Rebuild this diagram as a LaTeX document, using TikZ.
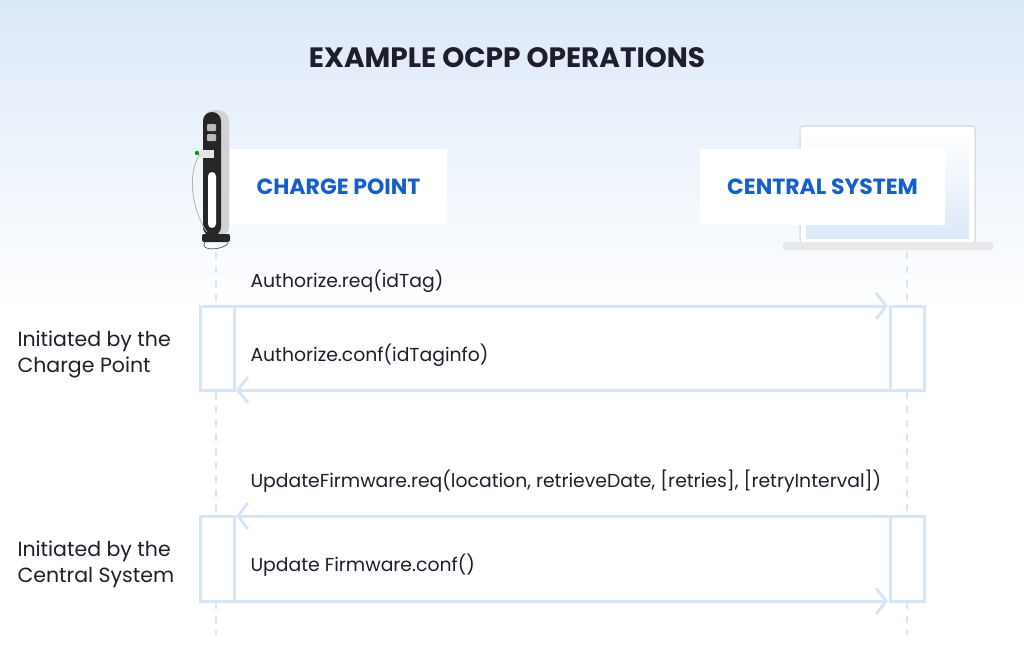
\documentclass[tikz,border=0pt]{standalone}
\usepackage{fontspec}
\setmainfont{Poppins}
\usetikzlibrary{arrows.meta}
\definecolor{bgtop}{HTML}{DCE9F8}
\definecolor{ln}{HTML}{D6E6F8}
\definecolor{hblue}{HTML}{1560C8}
\definecolor{dark}{HTML}{1E1E2C}
\begin{document}
\begin{tikzpicture}[x=1pt,y=-1pt,
  hdr/.style={fill=white,draw=none},
  hdrtext/.style={text=hblue,font=\fontsize{22}{26}\selectfont\bfseries},
  msg/.style={anchor=west,text=dark,font=\fontsize{18.8}{22}\selectfont},
  side/.style={anchor=north west,align=left,text=dark,font=\fontsize{20.5}{26}\selectfont},
  life/.style={draw=ln,line width=2.5pt,dash pattern=on 7pt off 7pt},
  act/.style={draw=ln,line width=3pt},
  arr/.style={draw=ln,line width=3pt,-{Straight Barb[length=10pt,width=26pt,line width=3pt]}}]
\useasboundingbox (0,0) rectangle (1024,657);
\shade[top color=bgtop,bottom color=white] (0,0) rectangle (1024,310);
\fill[white] (0,310) rectangle (1024,657);
\node[text=dark,font=\fontsize{28}{32}\selectfont\bfseries] (title) at (507,58) {EXAMPLE OCPP OPERATIONS};
% laptop
\draw[fill=white,draw=gray!25,line width=1.5pt,rounded corners=3pt] (800,126) rectangle (975,244);
\shade[top color=white,bottom color=bgtop] (806,133) rectangle (969,238);
\fill[gray!18,rounded corners=2pt] (783,242) rectangle (993,250);
% charger
\fill[gray!35,rounded corners=11pt] (203,110) rectangle (229,238);
\fill[black!85,rounded corners=9pt] (203,112) rectangle (221,236);
\fill[gray!55,rounded corners=1pt] (207,124) rectangle (216,131);
\fill[gray!55,rounded corners=1pt] (207,134) rectangle (216,141);
\fill[white,rounded corners=4pt] (208,172) rectangle (216,228);
\fill[black!85,rounded corners=2pt] (202,234) rectangle (230,242);
\fill[gray!20] (200,150) rectangle (214,158);
\draw[gray!60,line width=0.8pt] (200,154) .. controls (186,175) and (193,212) .. (207,232);
\draw[black!60,line width=0.8pt] (205,242) .. controls (198,252) and (225,250) .. (228,243);
\fill[green!60!black] (197,153) circle (2.2pt);
% headers
\node[hdr,minimum width=217pt,minimum height=76pt] (cp) at (338.5,187) {};
\node[hdrtext] at (cp) {CHARGE POINT};
\node[hdr,minimum width=245pt,minimum height=76pt] (cs) at (822.5,187) {};
\node[hdrtext] at (cs) {CENTRAL SYSTEM};
% lifelines
\coordinate (l1) at (216,252); \coordinate (l2) at (216,635);
\coordinate (r1) at (907,252); \coordinate (r2) at (907,635);
\draw[life] (l1) -- (l2);
\draw[life] (r1) -- (r2);
% activation boxes
\draw[act,fill=white] (200,306) rectangle (234,390);
\draw[act,fill=white] (890,306) rectangle (924,390);
\draw[act,fill=white] (200,516) rectangle (234,601);
\draw[act,fill=white] (890,516) rectangle (924,601);
\coordinate (a1) at (234,306); \coordinate (b1) at (888,306);
\coordinate (a2) at (890,390); \coordinate (b2) at (236,390);
\coordinate (a3) at (890,516); \coordinate (b3) at (236,516);
\coordinate (a4) at (234,601); \coordinate (b4) at (888,601);
\draw[arr] (a1) -- (b1);
\draw[arr] (a2) -- (b2);
\draw[arr] (a3) -- (b3);
\draw[arr] (a4) -- (b4);
% labels
\node[msg] (m1) at (247,281) {Authorize.req(idTag)};
\node[msg] (m2) at (247,355) {Authorize.conf(idTaginfo)};
\node[msg] (m3) at (247,481) {UpdateFirmware.req(location, retrieveDate, [retries], [retryInterval])};
\node[msg] (m4) at (247,565) {Update Firmware.conf()};
\node[side] (s1) at (14,327) {Initiated by the\\Charge Point};
\node[side] (s2) at (14,537) {Initiated by the\\Central System};
\end{tikzpicture}
\end{document}
